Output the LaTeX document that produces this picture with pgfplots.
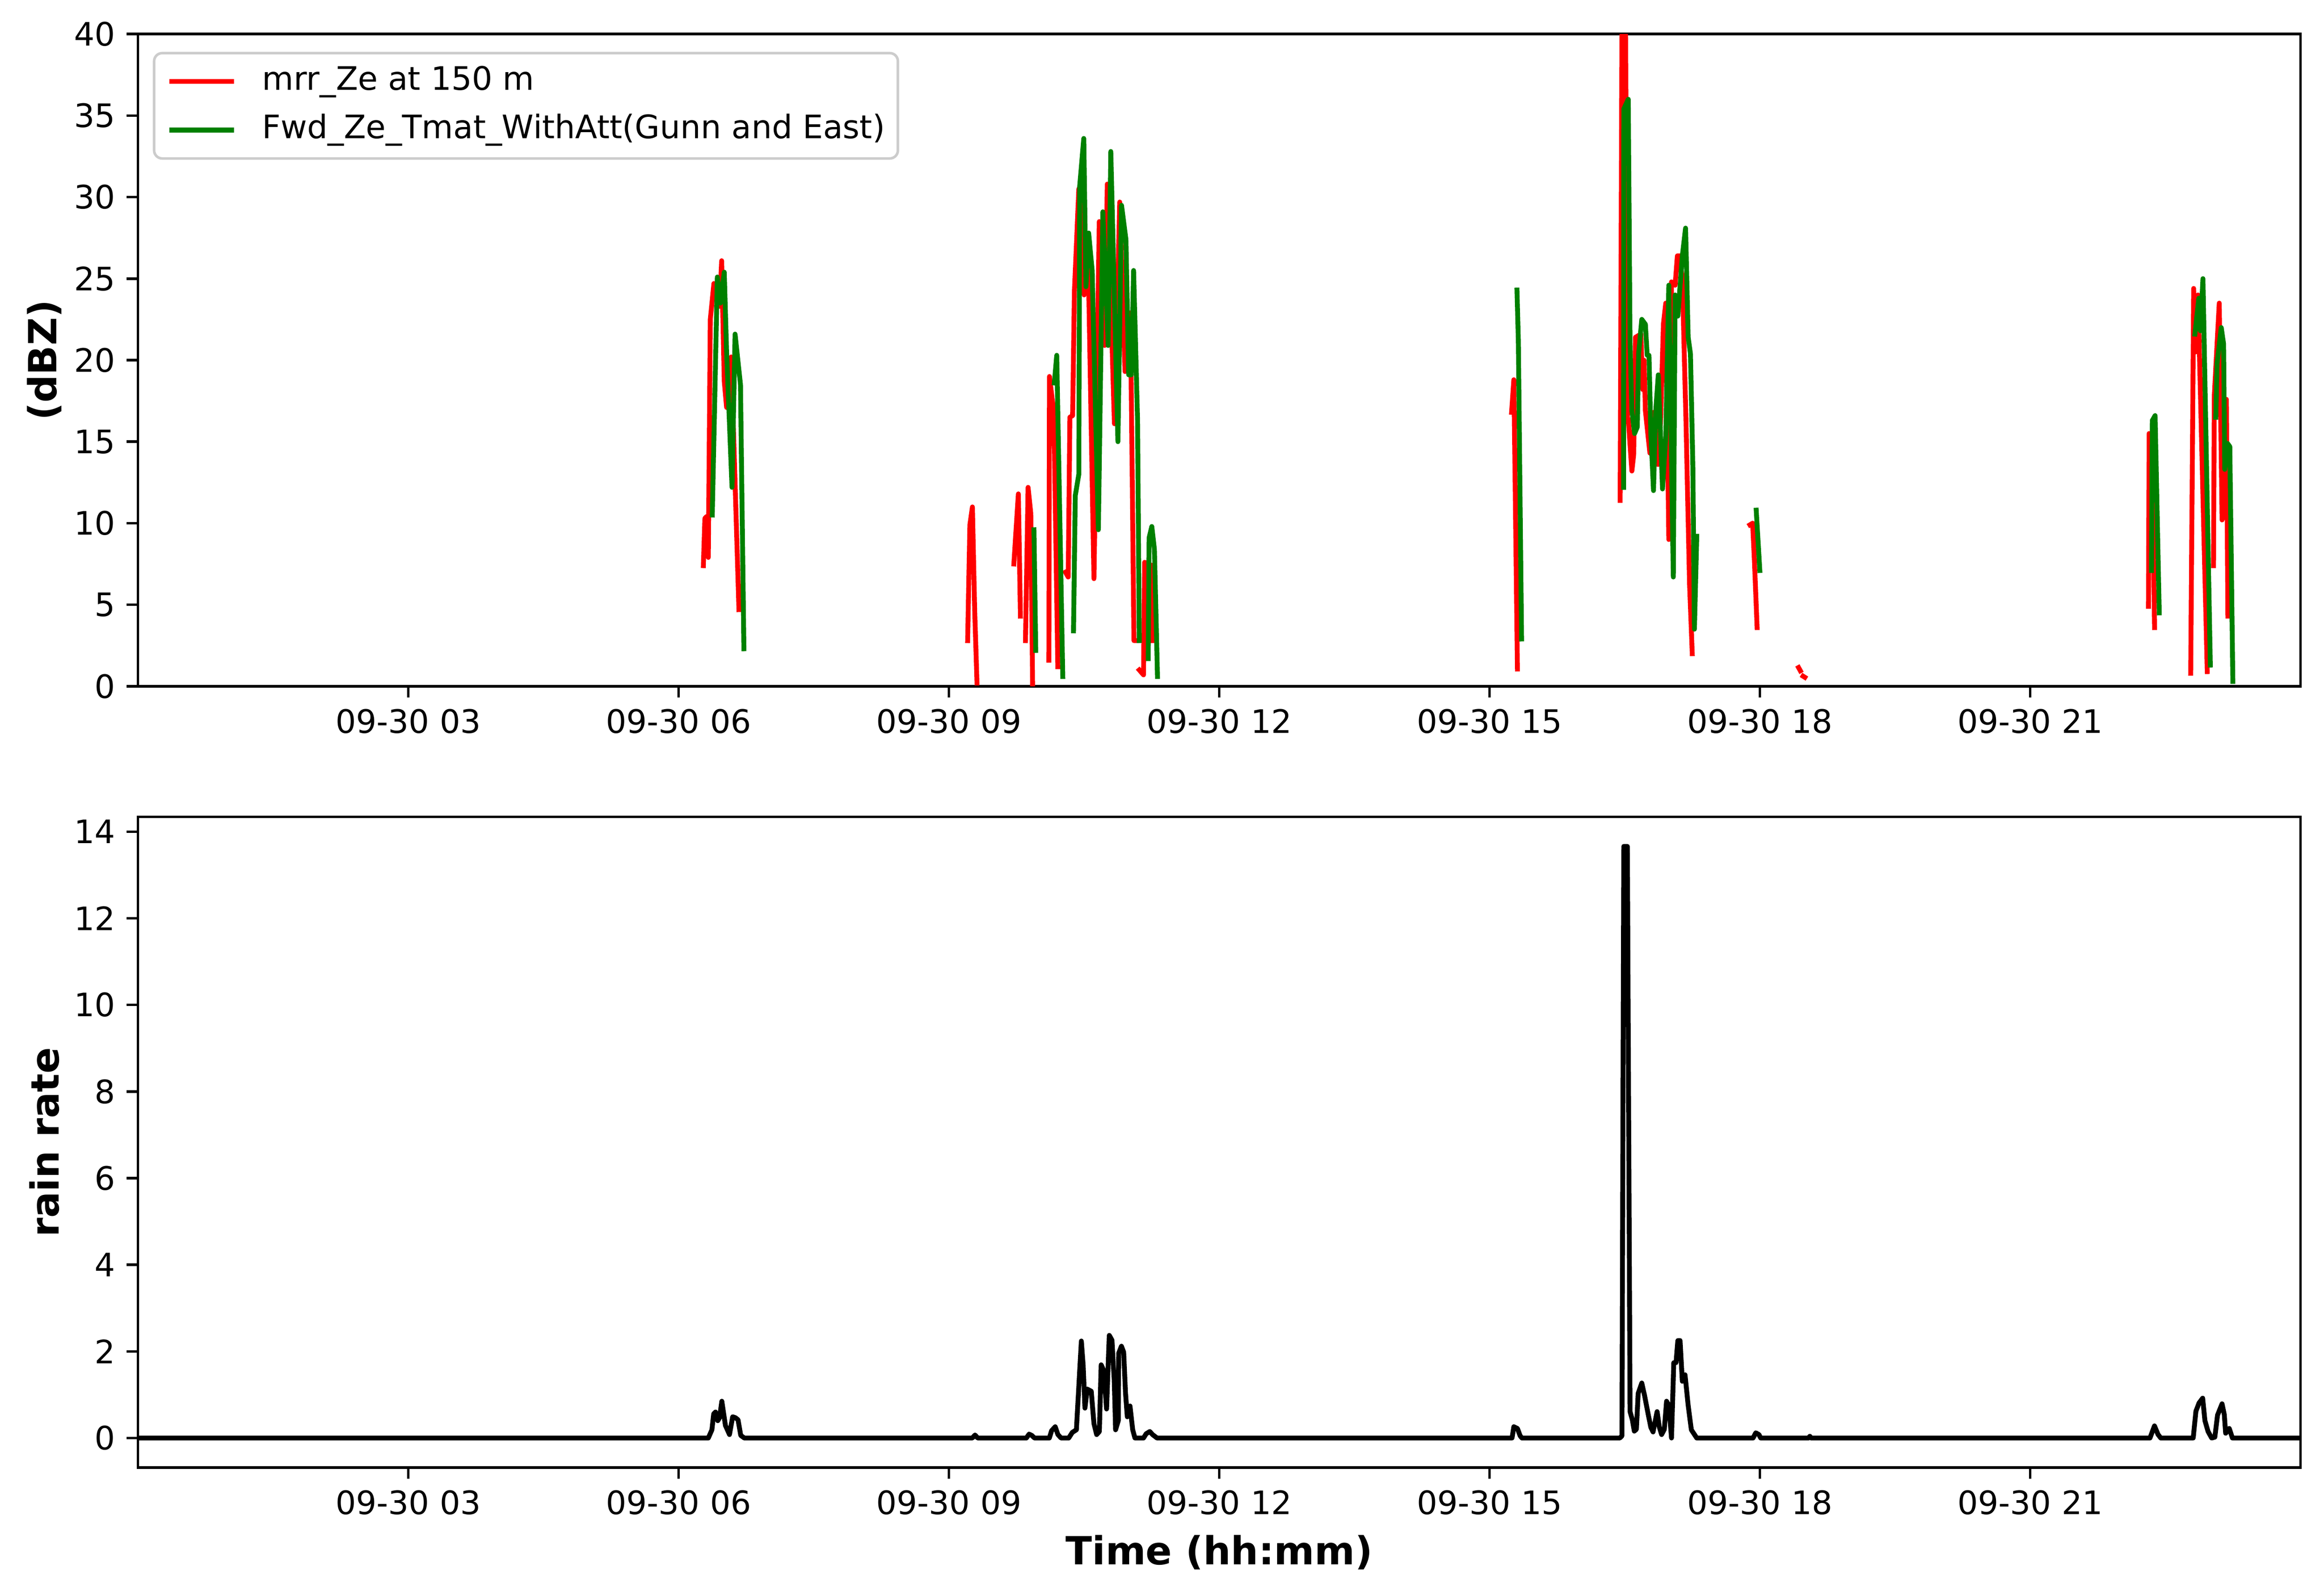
\documentclass[border=0pt]{standalone}
\usepackage{pgfplots}
\pgfplotsset{compat=1.18}
\usepackage{pgfplotstable}
\usepackage{fontspec}
\setmainfont{DejaVu Sans}
\definecolor{mplgreen}{RGB}{0,128,0}

\pgfplotstableread{
x y
6.275 7.4
6.292 10.3
6.309 10.4
6.330 7.9
6.352 22.5
6.392 24.7
6.455 23.3
6.478 26.1
6.507 18.7
6.533 17.1
6.584 20.2
6.670 4.7
nan nan
9.208 2.8
9.233 9.9
9.261 11.0
9.287 4.5
9.312 0.2
nan nan
9.721 7.5
9.771 11.8
9.794 4.3
nan nan
9.850 2.8
9.879 12.2
9.909 10.6
9.929 0.1
nan nan
10.110 1.6
10.116 19.0
10.165 16.8
10.209 1.2
nan nan
10.294 7.0
10.324 6.7
10.343 16.5
10.373 16.6
10.393 24.2
10.442 30.5
10.472 30.7
10.501 24.0
10.541 27.7
10.610 6.6
10.669 28.5
10.728 20.9
10.758 30.8
10.837 16.1
10.896 29.7
10.955 19.3
11.015 22.9
11.054 2.8
11.100 2.8
nan nan
11.113 1.0
11.160 0.7
11.173 7.6
11.255 7.4
11.263 2.8
nan nan
15.245 16.8
15.270 18.8
15.310 1.06
nan nan
16.450 11.4
16.470 41
16.510 41
16.530 16.4
16.540 16.4
16.580 13.2
16.600 14.2
16.620 21.4
16.680 21.6
16.700 18.2
16.715 20.0
16.730 16.9
16.780 14.3
16.820 16.8
16.870 13.6
16.900 16.5
16.930 22.2
16.956 23.5
16.990 9.0
17.020 24.8
17.060 24.6
17.085 26.4
17.110 26.4
17.140 25.0
17.180 16.4
17.220 6.3
17.250 2.0
nan nan
17.890 9.9
17.920 10.0
17.940 7.7
17.970 3.6
nan nan
18.430 1.15
18.450 0.95
nan nan
18.480 0.62
18.500 0.55
nan nan
22.313 4.9
22.321 15.5
22.347 15.4
22.381 3.6
nan nan
22.782 0.8
22.815 24.4
22.837 20.5
22.863 24.0
22.966 0.9
nan nan
23.035 7.4
23.044 17.8
23.099 23.5
23.130 10.2
23.147 10.5
23.178 17.6
23.195 4.3
}\redtable

\pgfplotstableread{
x y
6.374 10.5
6.430 25.1
6.464 23.5
6.507 25.4
6.533 20.5
6.593 12.2
6.627 21.6
6.687 18.5
6.725 2.3
nan nan
9.944 9.6
9.964 2.2
nan nan
10.170 18.6
10.197 20.3
10.264 0.6
nan nan
10.383 3.4
10.403 11.7
10.442 13.0
10.452 30.7
10.497 33.6
10.521 24.5
10.551 27.8
10.590 25.5
10.659 9.6
10.709 29.1
10.768 20.9
10.797 32.8
10.876 15.0
10.916 29.5
10.965 27.4
10.995 19.1
11.024 19.1
11.050 25.5
11.094 16.3
11.113 2.8
nan nan
11.212 1.7
11.222 9.1
11.252 9.8
11.281 8.4
11.315 0.6
nan nan
15.305 24.3
15.320 21.2
15.356 2.9
nan nan
16.488 12.2
16.490 35.4
16.540 36.0
16.560 20.9
16.580 16.9
16.610 15.5
16.640 15.9
16.655 20.4
16.690 22.5
16.730 22.2
16.750 20.3
16.770 20.3
16.790 15.6
16.820 12.0
16.844 16.8
16.873 19.1
16.920 12.1
16.956 15.3
16.990 24.6
17.040 6.7
17.060 24.0
17.090 22.7
17.140 26.4
17.176 28.1
17.205 21.4
17.230 20.4
17.257 13.5
17.274 3.5
17.300 9.2
nan nan
17.960 10.8
18.000 7.1
nan nan
22.347 7.1
22.356 16.3
22.387 16.6
22.433 4.5
nan nan
22.829 21.6
22.872 23.8
22.889 21.8
22.918 25.0
23.000 1.3
nan nan
23.061 16.5
23.075 19.8
23.121 22.0
23.147 21.0
23.160 13.3
23.190 14.9
23.216 14.7
23.250 0.3
}\greentable

\pgfplotstableread{
x y
0 0
6.33 0
6.37 0.19
6.39 0.56
6.41 0.60
6.435 0.40
6.455 0.47
6.48 0.85
6.52 0.29
6.565 0.08
6.60 0.49
6.63 0.47
6.66 0.42
6.69 0.06
6.73 0
9.26 0
9.29 0.07
9.32 0
9.86 0
9.89 0.09
9.92 0.06
9.95 0
10.115 0
10.14 0.17
10.18 0.26
10.21 0.08
10.245 0
10.33 0
10.37 0.13
10.415 0.19
10.44 1.12
10.47 2.24
10.49 1.69
10.51 0.69
10.535 1.13
10.58 1.08
10.61 0.33
10.64 0.08
10.67 0.15
10.69 1.69
10.72 1.55
10.75 0.67
10.78 2.37
10.81 2.26
10.835 1.33
10.85 0.19
10.88 0.40
10.885 1.96
10.915 2.12
10.94 1.98
10.96 1.05
10.98 0.49
11.01 0.74
11.04 0.19
11.065 0
11.16 0
11.19 0.10
11.23 0.15
11.26 0.08
11.31 0
15.25 0
15.27 0.26
15.31 0.22
15.34 0.05
15.36 0
16.446 0
16.47 0.05
16.49 13.66
16.53 13.66
16.56 0.61
16.585 0.42
16.607 0.16
16.63 0.20
16.65 1.03
16.69 1.27
16.72 0.99
16.76 0.56
16.79 0.25
16.815 0.14
16.86 0.61
16.885 0.25
16.91 0.08
16.94 0.20
16.965 0.85
16.99 0.75
17.02 0
17.045 1.74
17.07 1.74
17.09 2.25
17.115 2.25
17.14 1.31
17.17 1.46
17.205 0.75
17.24 0.19
17.30 0
17.925 0
17.955 0.12
17.99 0.08
18.01 0
18.54 0
18.555 0.04
18.57 0
22.33 0
22.38 0.28
22.42 0.08
22.45 0
22.81 0
22.84 0.62
22.875 0.81
22.915 0.92
22.94 0.40
22.975 0.15
23.015 0
23.05 0.02
23.08 0.53
23.13 0.79
23.155 0.54
23.17 0.11
23.21 0.22
23.245 0
24 0
}\raintable

\pgfplotsset{
  mplaxis/.style={
    scale only axis,
    width=669.3pt,
    xmin=0, xmax=24,
    enlargelimits=false,
    axis line style={line width=0.8pt},
    tick style={line width=0.8pt, black},
    major tick length=3.5pt,
    tick align=outside,
    xtick pos=bottom, ytick pos=left,
    minor tick num=0,
    xtick={3,6,9,12,15,18,21},
    xticklabels={09-30 03,09-30 06,09-30 09,09-30 12,09-30 15,09-30 18,09-30 21},
    /pgf/number format/assume math mode=true,
    ticklabel style={font=\fontsize{10}{12}\selectfont},
    unbounded coords=jump,
    every axis y label/.style={at={(axis description cs:-0.0433,0.5)}, rotate=90, anchor=center,
      font=\fontsize{12}{14}\selectfont\bfseries},
    every axis x label/.style={at={(axis description cs:0.5,-0.130)}, anchor=center,
      font=\fontsize{12}{14}\selectfont\bfseries},
    every axis plot/.append style={line join=round, line cap=rect},
  }
}

\begin{document}
\begin{tikzpicture}
\begin{axis}[mplaxis,
  at={(0pt,241.8pt)}, anchor=south west,
  height=201.85pt,
  ymin=0, ymax=40,
  ytick={0,5,...,40},
  ylabel={(dBZ)},
  legend cell align=left,
  legend style={at={(axis description cs:0,1)}, anchor=north west,
    xshift=4.6pt, yshift=-5.5pt,
    draw=black!20, line width=0.8pt, rounded corners=2.5pt, fill=white,
    inner xsep=4pt, inner ysep=3.8pt, row sep=5pt,
    font=\fontsize{10}{12}\selectfont,
    nodes={inner xsep=0pt, inner ysep=0pt, text height=7.6pt, text depth=2.4pt},
    /tikz/every odd column/.append style={column sep=8pt}},
  legend image code/.code={\draw[#1, line cap=butt] (0pt,0pt) -- (20pt,0pt);},
]
\addplot[red, line width=1.5pt] table[x=x,y=y] {\redtable};
\addlegendentry{mrr\_Ze at 150 m}
\addplot[mplgreen, line width=1.5pt] table[x=x,y=y] {\greentable};
\addlegendentry{Fwd\_Ze\_Tmat\_WithAtt(Gunn and East)}
\end{axis}

\begin{axis}[mplaxis,
  at={(0pt,0pt)}, anchor=south west,
  height=201.4pt,
  ymin=-0.683, ymax=14.343,
  ytick={0,2,...,14},
  ylabel={rain rate},
  xlabel={Time (hh:mm)},
]
\addplot[black, line width=1.5pt] table[x=x,y=y] {\raintable};
\end{axis}
\pgfresetboundingbox
\path[use as bounding box] (-42.7pt,-39.7pt) rectangle (676.6pt,454.2pt);
\end{tikzpicture}
\end{document}
